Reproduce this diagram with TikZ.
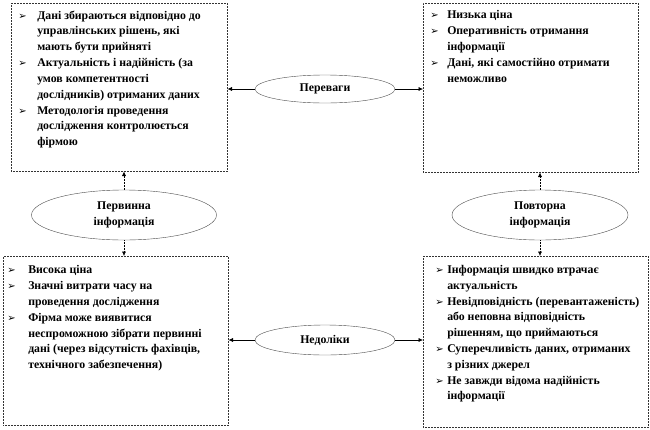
\documentclass[tikz,border=0pt]{standalone}
\usepackage{fontspec}
\setmainfont{Liberation Serif}
\newfontfamily\bulfont{DejaVu Sans}
\usetikzlibrary{shapes.geometric,arrows.meta}

\newlength\itemhang
\newcommand\pnt{\par\hangindent=\itemhang\hangafter=1\noindent
  \makebox[\itemhang][l]{\bulfont\fontsize{10}{10}\selectfont ➢}}
% width, height, left pad, hang, top gap, items
\newcommand\boxbody[6]{%
  \begin{minipage}[t][#2][t]{#1}%
    \setlength\itemhang{#4}\leftskip=#3\relax\rightskip=0pt plus 1fil\relax
    \vspace*{#5}#6\par
  \end{minipage}}

\begin{document}
\begin{tikzpicture}[x=1pt,y=-1pt]
  % Base settings
  \tikzset{
    infobox/.style={draw=black!80, densely dotted, line width=0.5pt, anchor=north west,
      inner sep=0pt, font=\bfseries\fontsize{11.8}{15.8}\selectfont},
    kind/.style={ellipse, draw=black!70, line width=0.4pt, inner sep=0pt, align=center,
      font=\bfseries\fontsize{11.8}{15.8}\selectfont},
    link/.style={line width=0.5pt, -{Latex[length=4.5pt,width=4pt]}},
    vlink/.style={link, densely dotted}
  }
  \useasboundingbox (0,0) rectangle (650,429);

  % --- Boxes ---
  \node[infobox] (pluslo) at (11,3) {\boxbody{216pt}{168pt}{7pt}{19pt}{7.5pt}{%
    \pnt Дані збираються відповідно до\\ управлінських рішень, які\\ мають бути прийняті
    \pnt Актуальність і надійність (за\\ умов компетентності\\ дослідників) отриманих даних
    \pnt Методологія проведення\\ дослідження контролюється\\ фірмою}};

  \node[infobox] (plushi) at (423,3) {\boxbody{215pt}{169pt}{7pt}{17pt}{7.5pt}{%
    \pnt Низька ціна
    \pnt Оперативність отримання\\ інформації
    \pnt Дані, які самостійно отримати\\ неможливо}};

  \node[infobox] (minuslo) at (3,256) {\boxbody{225pt}{169pt}{4pt}{21pt}{9.5pt}{%
    \pnt Висока ціна
    \pnt Значні витрати часу на\\ проведення дослідження
    \pnt Фірма може виявитися\\ неспроможною зібрати первинні\\ дані (через відсутність фахівців,\\ технічного забезпечення)}};

  \node[infobox] (minushi) at (423,256) {\boxbody{225pt}{171pt}{12pt}{12pt}{9pt}{%
    \pnt Інформація швидко втрачає\\ актуальність
    \pnt Невідповідність (перевантаженість)\\ або неповна відповідність\\ рішенням, що приймаються
    \pnt Суперечливість даних, отриманих\\ з різних джерел
    \pnt Не завжди відома надійність\\ інформації}};

  % --- Ellipses ---
  \node[kind, minimum width=140pt, minimum height=28pt] (pros) at (325,89) {Переваги};
  \node[kind, minimum width=140pt, minimum height=30pt] (cons) at (325,340) {Недоліки};
  \node[kind, minimum width=185pt, minimum height=50pt] (prim) at (124,215) {Первинна\\інформація};
  \node[kind, minimum width=176pt, minimum height=50pt] (sec) at (540,215) {Повторна\\інформація};

  % --- Connectors ---
  \draw[link] (pros.west) -- (pros.west -| pluslo.east);
  \draw[link] (pros.east) -- (pros.east -| plushi.west);
  \draw[link] (cons.west) -- (cons.west -| minuslo.east);
  \draw[link] (cons.east) -- (cons.east -| minushi.west);
  \draw[vlink] (prim.north) -- (prim.north |- pluslo.south);
  \draw[vlink] (prim.south) -- (prim.south |- minuslo.north);
  \draw[vlink] (sec.north) -- (sec.north |- plushi.south);
  \draw[vlink] (sec.south) -- (sec.south |- minushi.north);
\end{tikzpicture}
\end{document}
